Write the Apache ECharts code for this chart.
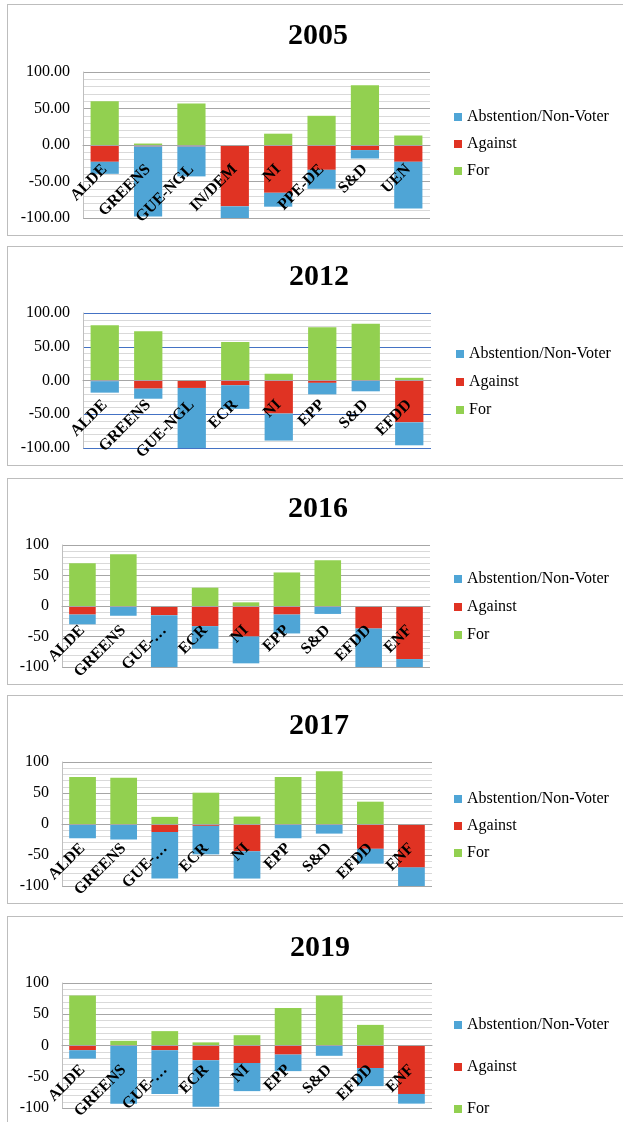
<!DOCTYPE html>
<html>
<head>
<meta charset="utf-8">
<script src="https://cdn.jsdelivr.net/npm/echarts@6/dist/echarts.min.js"></script>
<style>
    html, body { margin: 0; padding: 0; background: #fff; width: 623px; height: 1122px; overflow: hidden; }
    .box { position: absolute; left: 7px; width: 640px; border: 1px solid #bdbdbd; box-sizing: border-box; background: #fff; }
</style>
</head>
<body>
<div class="box" id="c2005" style="top:4px;height:232px;"></div>
<div class="box" id="c2012" style="top:246px;height:220px;"></div>
<div class="box" id="c2016" style="top:478px;height:207px;"></div>
<div class="box" id="c2017" style="top:695px;height:209px;"></div>
<div class="box" id="c2019" style="top:916px;height:230px;"></div>
<script>
// 数据
const legendNames = ['Abstention/Non-Voter', 'Against', 'For'];
const yTicks = [-100, -50, 0, 50, 100];

const cats2005 = ['ALDE', 'GREENS', 'GUE-NGL', 'IN/DEM', 'NI', 'PPE-DE', 'S&D', 'UEN'];
const for2005 = [60, 2, 57, 0, 15.5, 40, 82, 13];
const against2005 = [-23, -2, -2, -84, -65.5, -34, -7, -23];
const abst2005 = [-16.5, -96, -41, -16, -19, -26, -11.5, -64];

const cats2012 = ['ALDE', 'GREENS', 'GUE-NGL', 'ECR', 'NI', 'EPP', 'S&D', 'EFDD'];
const for2012 = [82, 73, 0, 57, 10, 79, 84, 4];
const against2012 = [-1, -12, -11, -7, -49, -3.5, -0.5, -62];
const abst2012 = [-17, -15, -89, -35, -40, -17, -15.5, -34];

const cats2016 = ['ALDE', 'GREENS', 'GUE-…', 'ECR', 'NI', 'EPP', 'S&D', 'EFDD', 'ENF'];
const for2016 = [70, 85, 0, 30, 6, 55, 75, 0, 0];
const against2016 = [-14, 0, -15, -33, -50, -14, 0, -37, -87];
const abst2016 = [-16, -16, -85, -37, -44, -31, -13, -63, -13];

const cats2017 = ['ALDE', 'GREENS', 'GUE-…', 'ECR', 'NI', 'EPP', 'S&D', 'EFDD', 'ENF'];
const for2017 = [76, 74.5, 11.5, 50.5, 12, 76, 85, 36, 0];
const against2017 = [0, 0, -13, -3, -44, 0, 0, -40, -70];
const abst2017 = [-23, -25, -75, -46, -44, -23, -15.5, -24, -30];

const cats2019 = ['ALDE', 'GREENS', 'GUE-…', 'ECR', 'NI', 'EPP', 'S&D', 'EFDD', 'ENF'];
const for2019 = [80, 7.5, 23, 5, 16.5, 60, 80, 33, 0];
const against2019 = [-7.5, 0, -7.5, -23.5, -28, -14.5, 0, -36, -77.5];
const abst2019 = [-13.5, -93, -70, -74.5, -45, -26.5, -16.5, -29, -15.5];

const serif = "'Liberation Serif', 'Times New Roman', serif";
const colBlue = '#4fa5d6', colRed = '#e03323', colGreen = '#92d050';

function makeChart(id, year, cats, fo, ag, ab, p) {
    let myChart = echarts.init(document.getElementById(id));
    let option = {
        animation: false,
        title: {
            text: year,
            left: p.titleX - 30,
            top: p.titleY,
            padding: 0,
            textStyle: { fontFamily: serif, fontSize: 30, fontWeight: 'bold', color: '#000' }
        },
        legend: {
            data: legendNames,
            orient: 'vertical',
            left: p.legX,
            top: p.legY,
            padding: 0,
            itemWidth: 8,
            itemHeight: 8,
            itemGap: p.legGap,
            icon: 'rect',
            textStyle: { fontFamily: serif, fontSize: 16, color: '#000', lineHeight: 16 }
        },
        grid: {
            left: p.left,
            top: p.top,
            width: p.width,
            height: p.height,
            containLabel: false,
            outerBoundsMode: 'none'
        },
        xAxis: {
            type: 'category',
            data: cats,
            // 轴放在 0 的位置（范围对称，所以上移半个高度）
            offset: -p.height / 2,
            z: 5,
            axisTick: { show: false },
            axisLine: { onZero: false, lineStyle: { color: '#a6a6a6', width: 1 } },
            axisLabel: {
                interval: 0,
                rotate: 45,
                margin: 22,
                fontFamily: serif,
                fontSize: 16,
                fontWeight: 'bold',
                color: '#000'
            }
        },
        yAxis: {
            type: 'value',
            min: yTicks[0],
            max: yTicks[yTicks.length - 1],
            interval: 50,
            axisLine: { show: true, lineStyle: { color: '#bfbfbf' } },
            axisTick: { show: false },
            axisLabel: {
                margin: 13,
                fontFamily: serif,
                fontSize: 16,
                color: '#000',
                formatter: function (v) { return p.decimals ? v.toFixed(2) : String(v); }
            },
            splitLine: { lineStyle: { color: p.major, width: 1 } },
            minorTick: { show: false, splitNumber: 5 },
            minorSplitLine: { show: true, lineStyle: { color: '#d9d9d9', width: 1 } }
        },
        series: [
            { name: 'Against', type: 'bar', stack: 'v', data: ag, barCategoryGap: '35%', itemStyle: { color: colRed } },
            { name: 'Abstention/Non-Voter', type: 'bar', stack: 'v', data: ab, itemStyle: { color: colBlue } },
            { name: 'For', type: 'bar', stack: 'v', data: fo, itemStyle: { color: colGreen } }
        ]
    };
    myChart.setOption(option);
}

makeChart('c2005', '2005', cats2005, for2005, against2005, abst2005,
    { titleX: 310, titleY: 16, legX: 446, legY: 104, legGap: 11, left: 75, top: 67, width: 347, height: 146, decimals: true, major: '#a6a6a6' });
makeChart('c2012', '2012', cats2012, for2012, against2012, abst2012,
    { titleX: 311, titleY: 15, legX: 448, legY: 99, legGap: 12, left: 75, top: 66, width: 348, height: 135, decimals: true, major: '#4472c4' });
makeChart('c2016', '2016', cats2016, for2016, against2016, abst2016,
    { titleX: 310, titleY: 15, legX: 446, legY: 92, legGap: 12, left: 54, top: 66, width: 368, height: 122, decimals: false, major: '#a6a6a6' });
makeChart('c2017', '2017', cats2017, for2017, against2017, abst2017,
    { titleX: 311, titleY: 15, legX: 446, legY: 95, legGap: 11, left: 54, top: 66, width: 370, height: 124, decimals: false, major: '#a6a6a6' });
makeChart('c2019', '2019', cats2019, for2019, against2019, abst2019,
    { titleX: 312, titleY: 16, legX: 446, legY: 100, legGap: 26, left: 54, top: 66, width: 370, height: 125, decimals: false, major: '#a6a6a6' });
</script>
</body>
</html>
